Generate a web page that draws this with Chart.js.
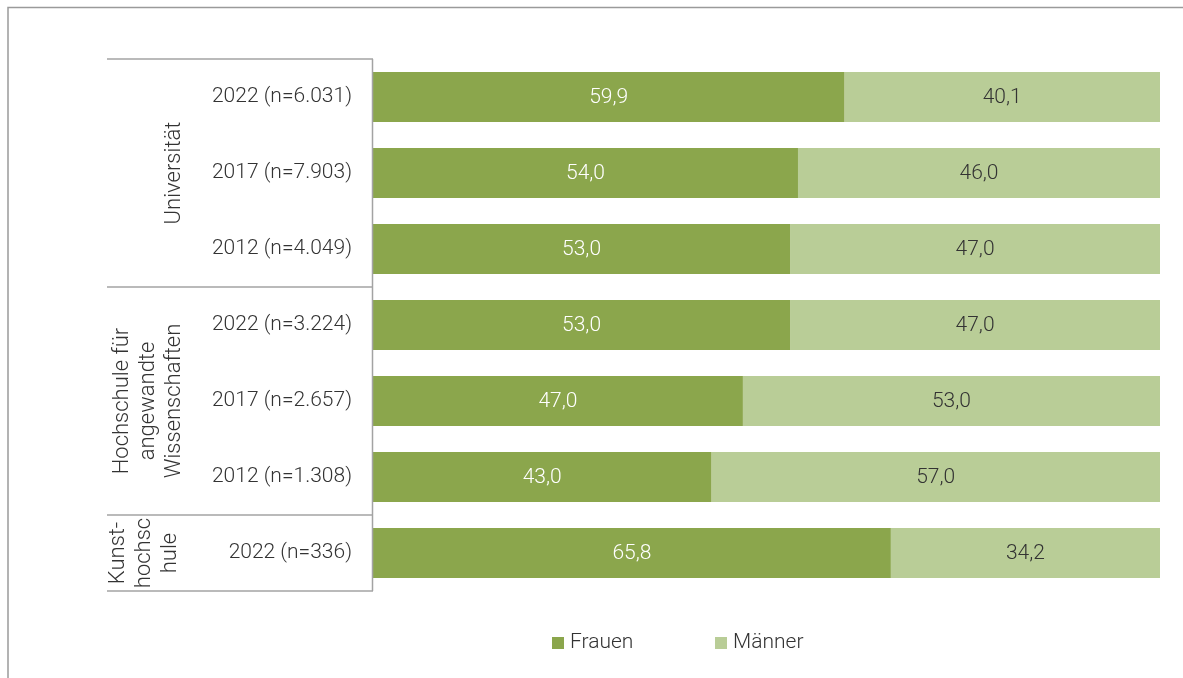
<!DOCTYPE html>
<html lang="de">
<head>
    <meta charset="UTF-8">
    <title>Frauen und Männer nach Hochschultyp</title>
    <script src="https://cdn.jsdelivr.net/npm/chart.js"></script>
    <style>
        body { margin: 0; background: #fff; }
        #wrap { width: 1183px; height: 678px; }
    </style>
</head>
<body>
    <div id="wrap">
        <canvas id="chart" width="1183" height="678"></canvas>
    </div>

    <script>
        // Zeilen (von oben nach unten)
        const rowLabels = [
            '2022 (n=6.031)', '2017 (n=7.903)', '2012 (n=4.049)',
            '2022 (n=3.224)', '2017 (n=2.657)', '2012 (n=1.308)',
            '2022 (n=336)'
        ];
        const frauen = [59.9, 54.0, 53.0, 53.0, 47.0, 43.0, 65.8];
        const maenner = [40.1, 46.0, 47.0, 47.0, 53.0, 57.0, 34.2];

        // Gruppen: Beschriftung (Zeilen) und Anzahl Balken
        const groupNames = [
            ['Universität'],
            ['Hochschule für', 'angewandte', 'Wissenschaften'],
            ['Kunst-', 'hochsc', 'hule']
        ];
        const groupSizes = [3, 3, 1];

        const FONT = '"Roboto", "Liberation Sans", sans-serif';
        const LINE = '#a3a3a3';

        const fmt = v => v.toFixed(1).replace('.', ',');

        const framePlugin = {
            id: 'frame',
            beforeDraw(chart) {
                const ctx = chart.ctx;
                ctx.save();
                ctx.strokeStyle = '#9a9a9a';
                ctx.lineWidth = 1.5;
                ctx.beginPath();
                ctx.moveTo(8, 678);
                ctx.lineTo(8, 7.5);
                ctx.lineTo(1183, 7.5);
                ctx.stroke();
                ctx.restore();
            },
            afterDraw(chart) {
                const ctx = chart.ctx;
                const area = chart.chartArea;
                const y = chart.scales.y;
                const left = 107;
                ctx.save();
                ctx.strokeStyle = LINE;
                ctx.lineWidth = 1.5;

                // vertikale Linie an der Achse
                ctx.beginPath();
                ctx.moveTo(area.left - 0.5, area.top);
                ctx.lineTo(area.left - 0.5, area.bottom);
                ctx.stroke();

                // Gruppentrenner + Gruppennamen
                let start = 0;
                const half = (y.getPixelForValue(1) - y.getPixelForValue(0)) / 2;
                ctx.beginPath();
                ctx.moveTo(left, area.top);
                ctx.lineTo(area.left, area.top);
                ctx.stroke();
                groupSizes.forEach((n, g) => {
                    const end = start + n - 1;
                    const yTop = y.getPixelForValue(start) - half;
                    const yBot = y.getPixelForValue(end) + half;
                    ctx.beginPath();
                    ctx.moveTo(left, yBot);
                    ctx.lineTo(area.left, yBot);
                    ctx.stroke();

                    const lines = groupNames[g];
                    const cy = (yTop + yBot) / 2;
                    const lh = 26;
                    const lastX = g === 2 ? 170 : 174;
                    ctx.fillStyle = '#333';
                    ctx.font = '300 22px ' + FONT;
                    ctx.textAlign = 'center';
                    ctx.textBaseline = 'middle';
                    lines.forEach((txt, i) => {
                        const cx = lastX - (lines.length - 1 - i) * lh;
                        ctx.save();
                        ctx.translate(cx, cy);
                        ctx.rotate(-Math.PI / 2);
                        ctx.fillText(txt, 0, 0);
                        ctx.restore();
                    });
                    start += n;
                });

                // Legende
                ctx.font = '300 21px ' + FONT;
                ctx.textAlign = 'left';
                ctx.textBaseline = 'middle';
                chart.data.datasets.forEach((ds, i) => {
                    const x = 552 + i * 163;
                    ctx.fillStyle = ds.backgroundColor;
                    ctx.fillRect(x, 637, 12, 12);
                    ctx.fillStyle = '#333';
                    ctx.fillText(ds.label, x + 18, 643);
                });
                ctx.restore();
            }
        };

        const valueLabels = {
            id: 'valueLabels',
            afterDatasetsDraw(chart) {
                const ctx = chart.ctx;
                ctx.save();
                ctx.font = '300 21px ' + FONT;
                ctx.textAlign = 'center';
                ctx.textBaseline = 'middle';
                chart.data.datasets.forEach((ds, di) => {
                    const meta = chart.getDatasetMeta(di);
                    meta.data.forEach((bar, i) => {
                        const p = bar.getProps(['x', 'y', 'base'], true);
                        ctx.fillStyle = di === 0 ? '#ffffff' : '#333333';
                        ctx.fillText(fmt(ds.data[i]), (p.x + p.base) / 2, p.y + 1);
                    });
                });
                ctx.restore();
            }
        };

        new Chart(document.getElementById('chart'), {
            type: 'bar',
            data: {
                labels: rowLabels,
                datasets: [
                    { label: 'Frauen', data: frauen, backgroundColor: '#8ba64c' },
                    { label: 'Männer', data: maenner, backgroundColor: '#b9cd97' }
                ]
            },
            options: {
                indexAxis: 'y',
                responsive: false,
                animation: false,
                layout: { padding: { top: 59, right: 23, bottom: 87, left: 0 } },
                datasets: {
                    bar: { categoryPercentage: 1, barPercentage: 50 / 76 }
                },
                scales: {
                    x: { stacked: true, min: 0, max: 100, display: false },
                    y: {
                        stacked: true,
                        grid: { display: false, drawTicks: false },
                        border: { display: false },
                        ticks: {
                            color: '#333',
                            padding: 21,
                            font: { family: FONT, size: 21, weight: 300 }
                        },
                        afterFit(scale) { scale.width = 373; }
                    }
                },
                plugins: {
                    legend: { display: false },
                    tooltip: { enabled: false }
                }
            },
            plugins: [framePlugin, valueLabels]
        });
    </script>
</body>
</html>
